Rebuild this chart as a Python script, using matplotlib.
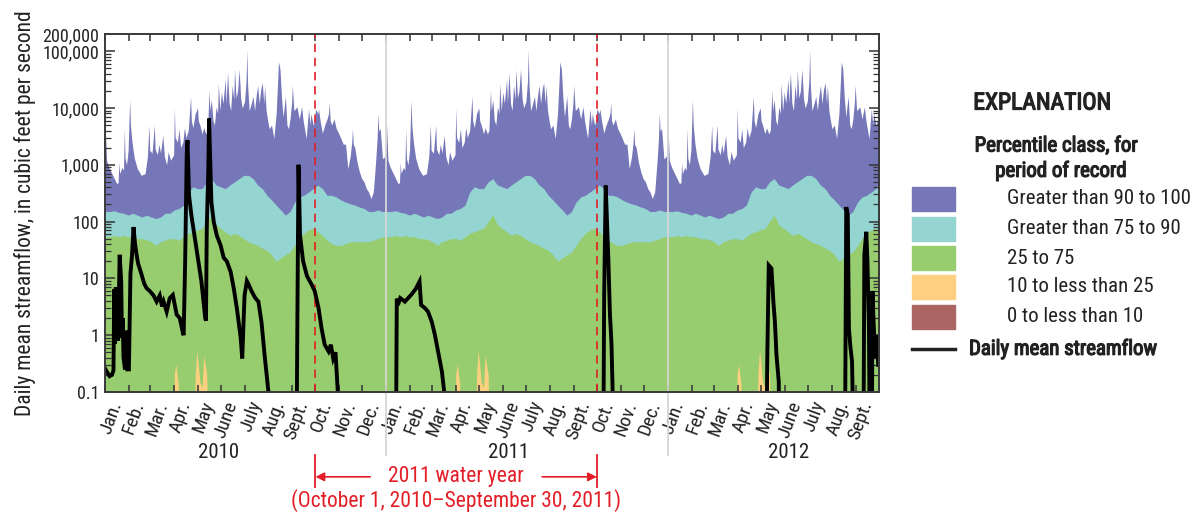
import numpy as np
import pandas as pd
import matplotlib
matplotlib.use("Agg")
import matplotlib.pyplot as plt
from matplotlib.patches import Rectangle
from matplotlib.lines import Line2D
import matplotlib.transforms as mtransforms
import matplotlib.patheffects as pe
from matplotlib.ticker import FixedLocator, LogLocator, NullFormatter

plt.rcParams['font.family'] = ['Roboto Condensed', 'DejaVu Sans']

# percentile statistics by day of year (period of record), cubic feet per second
# maximum (100th percentile): day of year, value
doy_max = [0, 2, 5, 10, 15, 17, 18, 19, 22, 24, 25, 26, 28, 30, 32, 33, 35, 38,
           42, 47, 52, 55, 57, 58, 61, 64, 65, 68, 70, 72, 75, 77, 80, 82, 85, 89,
           90, 91, 94, 96, 98, 101, 103, 105, 108, 111, 112, 114, 117, 120, 121, 123,
           126, 128, 131, 133, 135, 136, 138, 140, 142, 144, 146, 147, 149, 151, 153, 156,
           157, 159, 161, 163, 165, 167, 168, 170, 172, 174, 176, 178, 181, 183, 184, 185,
           187, 189, 192, 194, 196, 198, 200, 202, 204, 206, 207, 209, 211, 213, 216, 219,
           222, 224, 225, 227, 229, 231, 234, 236, 238, 240, 242, 243, 245, 247, 249, 252,
           255, 257, 258, 261, 264, 266, 267, 270, 272, 273, 276, 277, 279, 282, 285, 288,
           290, 291, 292, 294, 297, 300, 303, 306, 309, 312, 315, 318, 320, 321, 322, 324,
           327, 330, 333, 336, 339, 342, 345, 348, 351, 353, 354, 355, 357, 360, 363, 365]
q_max = [6000, 1200, 900, 650, 470, 480, 1100, 700, 900, 800, 4300, 1300, 1000, 1800, 14000, 5000, 2500, 1300,
         850, 650, 700, 1400, 5000, 1800, 1600, 5000, 1900, 1500, 2300, 1600, 3300, 1400, 1000, 1700, 1200, 1500,
         10000, 3000, 2500, 4300, 2000, 2500, 4500, 3000, 4000, 16000, 6000, 4500, 8000, 10000, 6000, 5000,
         3500, 4500, 3500, 4000, 21000, 9000, 14000, 6000, 5000, 10500, 8000, 27000, 9000, 19000, 12000, 32000,
         12000, 42000, 12000, 9000, 25000, 14000, 48000, 15000, 20000, 48000, 15000, 10000, 13000, 30000, 105000, 25000,
         9000, 11000, 16000, 9000, 16000, 25000, 12000, 21000, 28000, 12000, 25000, 9000, 6000, 4300, 5000, 2900,
         8000, 30000, 65000, 48000, 15000, 7000, 16000, 5000, 4300, 6400, 12000, 25000, 9000, 9600, 10500, 6400,
         10500, 6000, 5000, 2900, 9600, 5000, 8000, 5000, 6000, 9600, 8000, 9600, 6000, 3600, 5000, 6400,
         8000, 12500, 6000, 5000, 6400, 4300, 3600, 2900, 2300, 2300, 850, 1400, 2500, 4300, 2300, 2000,
         1100, 750, 570, 500, 380, 330, 255, 330, 1100, 3000, 8000, 4000, 4300, 1270, 1400, 2500]

doy_pct = np.arange(0, 366, 6)
q_p90 = [150, 150, 155, 145, 140, 130, 140, 130, 120, 130,
         120, 113, 120, 140, 140, 160, 170, 195, 330, 410,
         380, 380, 500, 570, 440, 410, 380, 440, 500, 570,
         650, 650, 570, 440, 380, 290, 240, 195, 160, 130,
         150, 220, 270, 290, 330, 380, 440, 380, 290, 290,
         270, 240, 220, 205, 195, 180, 170, 150, 150, 160,
         150]
q_p75 = [54, 54, 57, 54, 57, 54, 54, 50, 50, 48,
         44, 38, 44, 47, 50, 50, 47, 54, 62, 66,
         71, 76, 100, 130, 88, 76, 66, 57, 62, 57,
         50, 44, 41, 38, 34, 31, 26, 20, 23, 26,
         29, 38, 50, 62, 71, 76, 66, 57, 47, 41,
         38, 38, 41, 44, 44, 44, 44, 44, 47, 50,
         54]

doy_p25 = [84, 88, 90, 92, 95, 98, 114, 117, 119, 121, 123, 126, 128, 130, 132, 135]
q_p25 = [0, 0, 0.22, 0.3, 0.14, 0, 0, 0.2, 0.55, 0.3, 0.15, 0.12, 0.45, 0.3, 0.2, 0]

# daily mean streamflow, days since January 1, 2010
flow_day = [0, 3, 6, 9, 11, 12, 13, 14, 15, 16, 17, 19, 21, 22, 23, 24, 26, 28, 29, 31,
            33, 35, 37, 39, 41, 43, 45, 48, 51, 54, 58, 63, 67, 71, 74, 76, 80, 84, 88, 93,
            97, 101, 102, 104, 106, 107, 109, 112, 116, 121, 125, 130, 131, 132, 134, 135, 138, 141, 145, 150,
            154, 158, 163, 167, 171, 176, 178, 181, 184, 186, 190, 195, 199, 203, 207, 212, 213, 248, 249.5, 251,
            253, 257, 262, 268, 272, 277, 281, 285, 290, 293, 296, 299, 302, 303,
            377, 378.5, 380, 383, 389, 397, 403, 408, 410, 415, 419, 424, 428, 432, 437, 440, 441,
            646, 647.5, 649.5, 651, 653, 655, 657, 658.5, 659,
            857.5, 859, 861, 864.5, 867, 869, 871, 874, 875.5,
            959.5, 961.5, 963.5, 965, 967, 969, 972.5,
            983.5, 985, 987.5, 989, 991, 992.5, 994.5, 995.5, 997, 999, 1001, 1003, 1004]
flow_cfs = [0.26, 0.22, 0.19, 0.2, 0.24, 6.5, 0.7, 7, 1.0, 5, 0.8, 26, 9, 0.9, 2, 0.4, 0.25, 1.2, 0.25, 0.25,
            12, 25, 80, 40, 26, 18, 15, 11, 8, 6.7, 6, 5, 3.9, 5, 3.2, 3.9, 2.6, 4.5, 5.1, 2.3,
            2, 1.1, 1.0, 20, 1500, 2700, 290, 130, 57, 20, 9, 2, 1.8, 76, 800, 6500, 220, 100, 57, 38,
            23, 20, 13, 6.7, 3, 0.9, 0.39, 5, 9, 8, 6, 4.5, 3.9, 1.7, 0.45, 0.1, 0, 0, 1.5, 1000,
            57, 20, 11, 7.8, 6, 3, 1.3, 0.68, 0.52, 0.68, 0.39, 0.5, 0.1, 0,
            0, 4.4, 3.4, 4.5, 3.9, 5.1, 6.5, 8.8, 3.4, 3.0, 2.6, 1.7, 1.0, 0.52, 0.23, 0.1, 0,
            0, 5, 430, 120, 20, 2.3, 0.7, 0.1, 0,
            0, 0.35, 17, 15, 3.9, 1.7, 0.45, 0.15, 0,
            0, 180, 130, 1.3, 0.6, 0.35, 0,
            0, 26, 66, 20, 1.2, 0, 0, 6, 1.7, 0.4, 1.0, 0.3, 0.3]

year_start = [0, 365, 730]
year_names = ['2010', '2011', '2012']
year_label_day = [147, 523, 887]
month_names = ['Jan.', 'Feb.', 'Mar.', 'Apr.', 'May', 'June', 'July', 'Aug.', 'Sept.', 'Oct.', 'Nov.', 'Dec.']
water_year_start, water_year_end = 273, 638

c_max = '#7677b8'
c_p90 = '#94d4d1'
c_p75 = '#97cc6f'
c_p25 = '#fdd07f'
c_p10 = '#ab6563'
red = '#e31e26'
ink = '#222222'
floor = 1e-3
bold = [pe.withStroke(linewidth=0.9, foreground=ink)]

W, H = 1194, 512
fig = plt.figure(figsize=(W / 100, H / 100), dpi=100)
ax = fig.add_axes([105 / W, 1 - 392 / H, 774 / W, 358 / H])


def tiled(doy, vals):
    x = np.concatenate([s + np.asarray(doy) for s in year_start])
    y = np.tile(np.asarray(vals, dtype=float), len(year_start))
    return x, np.maximum(y, floor)


# stacked percentile classes, painted from the top class down
for doy, vals, col in [(doy_max, q_max, c_max), (doy_pct, q_p90, c_p90),
                       (doy_pct, q_p75, c_p75), (doy_p25, q_p25, c_p25)]:
    x, y = tiled(doy, vals)
    ax.fill_between(x, floor, y, color=col, lw=0, zorder=1)

trans = mtransforms.blended_transform_factory(ax.transData, ax.transAxes)

# calendar-year separators
for s in year_start[1:]:
    ax.plot([s, s], [-0.176, 1], transform=trans, color='#d6d6d6', lw=1.3,
            clip_on=False, zorder=2)

# water-year boundaries
for d in [water_year_start, water_year_end]:
    ax.axvline(d, color=red, lw=1.2, ls=(0, (5, 3.5)), zorder=3)

q = np.asarray(flow_cfs, dtype=float)
ax.plot(flow_day, np.where(q > 0, q, floor), color='black', lw=2.8, zorder=4,
        solid_joinstyle='miter')

ax.set_yscale('log')
ax.set_ylim(0.1, 200000)
ax.set_xlim(0, 1004)

ax.yaxis.set_major_locator(FixedLocator([0.1, 1, 10, 100, 1e3, 1e4, 1e5, 2e5]))
ax.set_yticklabels(['0.1', '1', '10', '100', '1,000', '10,000', '100,000', '200,000'])
ax.yaxis.set_minor_locator(LogLocator(base=10, subs=np.arange(2, 10)))
ax.yaxis.set_minor_formatter(NullFormatter())
ax.tick_params(axis='y', which='major', direction='in', length=7, width=1.1,
               right=True, labelsize=13, pad=4, color='#333333', labelcolor=ink)
ax.tick_params(axis='y', which='minor', direction='in', length=4, width=0.9,
               right=True, color='#333333')

months = pd.date_range('2010-01-01', '2012-10-01', freq='MS')
m_start = np.array([(m - months[0]).days for m in months])
m_mid = (m_start[:-1] + m_start[1:]) / 2
ax.set_xticks(m_start)
ax.set_xticklabels([])
ax.set_xticks(m_mid, minor=True)
ax.set_xticklabels([month_names[m.month - 1] for m in months[:-1]], minor=True,
                   rotation=70, ha='right', va='center', rotation_mode='anchor')
ax.tick_params(axis='x', which='major', direction='in', length=5, width=1.1,
               top=True, color='#333333')
ax.tick_params(axis='x', which='minor', length=0, labelsize=14, pad=7, labelcolor=ink)

for spine in ax.spines.values():
    spine.set_color('#3a3a3a')
    spine.set_linewidth(1.4)
    spine.set_zorder(5)

for d, name in zip(year_label_day, year_names):
    ax.text(d, -0.168, name, transform=trans, ha='center', va='center', fontsize=15,
            color=ink)

ax.set_ylabel('Daily mean streamflow, in cubic feet per second', fontsize=15.5,
              color=ink, labelpad=5)

# 2011 water-year bracket
for d in [water_year_start, water_year_end]:
    ax.plot([d, d], [-0.176, -0.265], transform=trans, color=red, lw=1.3, clip_on=False)
ax.annotate('', xy=(water_year_start, -0.237), xytext=(344, -0.237), xycoords=trans,
            textcoords=trans, arrowprops=dict(arrowstyle='-|>', color=red, lw=1.2,
                                              mutation_scale=13, shrinkA=0, shrinkB=0))
ax.annotate('', xy=(water_year_end, -0.237), xytext=(567, -0.237), xycoords=trans,
            textcoords=trans, arrowprops=dict(arrowstyle='-|>', color=red, lw=1.2,
                                              mutation_scale=13, shrinkA=0, shrinkB=0))
ax.text(455, -0.237, '2011 water year', transform=trans, ha='center', va='center',
        fontsize=15.5, color=red)
ax.text(455, -0.302, '(October 1, 2010\u2013September 30, 2011)', transform=trans,
        ha='center', va='center', fontsize=15.5, color=red)


# explanation block, placed in figure pixels
def fx(px):
    return px / W


def fy(py):
    return 1 - py / H


fig.text(fx(1042), fy(103), 'EXPLANATION', ha='center', va='center', fontsize=17,
         color=ink, path_effects=bold)
fig.text(fx(1056), fy(146), 'Percentile class, for', ha='center', va='center',
         fontsize=15, color=ink, path_effects=bold)
fig.text(fx(1061), fy(171), 'period of record', ha='center', va='center',
         fontsize=15, color=ink, path_effects=bold)

classes = ['Greater than 90 to 100', 'Greater than 75 to 90', '25 to 75',
           '10 to less than 25', '0 to less than 10']
class_colors = [c_max, c_p90, c_p75, c_p25, c_p10]
class_y = [199, 229, 258, 287, 317]
for lab, col, py in zip(classes, class_colors, class_y):
    fig.patches.append(Rectangle((fx(912), fy(py + 12)), fx(43), 24 / H, color=col,
                                 transform=fig.transFigure, figure=fig))
    fig.text(fx(1007), fy(py), lab, ha='left', va='center', fontsize=15, color=ink)
fig.lines.append(Line2D([fx(912), fx(955)], [fy(349), fy(349)], color=ink, lw=2.5,
                        transform=fig.transFigure, figure=fig))
fig.text(fx(969), fy(349), 'Daily mean streamflow', ha='left', va='center', fontsize=15,
         color=ink, path_effects=bold)

fig.savefig('out.png', dpi=100)
